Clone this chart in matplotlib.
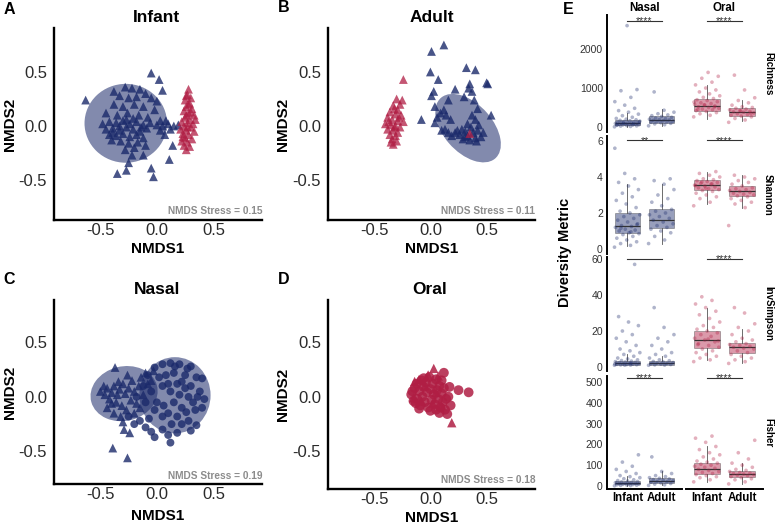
import numpy as np
import matplotlib
matplotlib.use('Agg')
import matplotlib.pyplot as plt
from matplotlib.patches import Ellipse

plt.rcParams['font.family'] = ['Liberation Sans', 'DejaVu Sans']
plt.rcParams['axes.unicode_minus'] = False

NAVY = '#1b2a6b'
RED = '#b01e44'
GREY = '#8c8c8c'

# ---- NMDS ordination points ----
# A: Infant samples, nasal (blue) and oral (red)
infant_nasal_x = [-0.63, -0.05, 0.02, 0.05, -0.35, -0.27, -0.03, -0.05, 0.11, 0.14, 0.07, -0.25, -0.12,
                  -0.28, -0.22, -0.15, -0.10, -0.33, -0.25, -0.18, -0.05, -0.38, -0.30, -0.20, -0.12, -0.02,
                  -0.45, -0.35, -0.26, -0.16, -0.08, -0.48, -0.42, -0.36, -0.30, -0.24, -0.18, -0.12, -0.06,
                  -0.45, -0.39, -0.33, -0.27, -0.21, -0.15, -0.09, -0.42, -0.36, -0.30, -0.24, -0.18, -0.12,
                  -0.40, -0.32, -0.25, -0.17, -0.28, -0.20, -0.10, -0.22, 0.00, 0.05, 0.10, 0.15, 0.19,
                  0.03, 0.12, 0.08, 0.00, 0.03, -0.38, -0.33, -0.27, -0.39, -0.21, -0.14]
infant_nasal_y = [0.24, 0.49, 0.43, 0.33, -0.44, -0.41, -0.47, -0.39, -0.31, -0.18, -0.08, -0.34, -0.27,
                  0.36, 0.35, 0.34, 0.30, 0.28, 0.26, 0.27, 0.26, 0.20, 0.18, 0.20, 0.18, 0.15,
                  0.12, 0.10, 0.12, 0.10, 0.08, 0.02, 0.04, 0.03, 0.05, 0.02, 0.04, 0.01, 0.03,
                  -0.03, -0.02, -0.04, -0.01, -0.03, -0.05, -0.02, -0.08, -0.09, -0.07, -0.10, -0.08, -0.11,
                  -0.13, -0.14, -0.16, -0.15, -0.22, -0.20, -0.18, -0.27, 0.01, 0.00, 0.02, 0.00, 0.01,
                  -0.04, -0.03, 0.05, 0.23, 0.05, 0.32, 0.00, 0.06, -0.06, 0.07, -0.01]
infant_oral_x = [0.28, 0.27, 0.30, 0.25, 0.29, 0.26, 0.31, 0.24, 0.28, 0.33, 0.25, 0.29, 0.22, 0.27, 0.32,
                 0.24, 0.30, 0.21, 0.26, 0.33, 0.23, 0.28, 0.25, 0.31, 0.22, 0.27, 0.24, 0.29, 0.26, 0.28,
                 0.26, 0.30, 0.27, 0.23, 0.34, 0.26]
infant_oral_y = [0.34, 0.29, 0.26, 0.24, 0.21, 0.18, 0.16, 0.14, 0.12, 0.10, 0.08, 0.06, 0.04, 0.03, 0.02,
                 0.00, -0.01, -0.03, -0.04, -0.05, -0.07, -0.08, -0.11, -0.12, -0.14, -0.15, -0.18, -0.19,
                 -0.22, 0.20, 0.10, 0.13, -0.01, -0.10, 0.06, 0.28]

# B: Adult samples
adult_nasal_x = [0.12, 0.01, 0.00, 0.07, 0.32, 0.40, 0.03, 0.01, 0.22, 0.35, 0.37, 0.34, 0.50, 0.51, 0.16,
                 0.30, 0.39, 0.42, 0.54, 0.04, 0.09, 0.12, 0.14, 0.18, -0.08, 0.04, 0.10, 0.16, 0.22, 0.26,
                 0.31, 0.36, 0.40, 0.42, 0.45, 0.40, 0.35, 0.31, 0.13, 0.19, 0.28, 0.33, 0.38, 0.43, 0.37,
                 0.33, 0.29, 0.24, 0.47, 0.41, 0.06]
adult_nasal_y = [0.75, 0.69, 0.50, 0.43, 0.54, 0.52, 0.32, 0.28, 0.34, 0.39, 0.32, 0.35, 0.40, 0.39, 0.24,
                 0.27, 0.24, 0.16, 0.10, 0.18, 0.12, 0.15, 0.10, 0.06, 0.06, 0.03, -0.04, -0.06, -0.06, -0.08,
                 -0.05, -0.01, 0.06, -0.04, -0.10, -0.11, -0.13, -0.10, -0.03, -0.09, -0.03, 0.02, -0.06, 0.01,
                 0.10, -0.09, -0.12, -0.04, -0.06, -0.14, 0.08]
adult_oral_x = [-0.30, -0.27, -0.33, -0.29, -0.36, -0.31, -0.26, -0.38, -0.34, -0.29, -0.24, -0.40, -0.35,
                -0.31, -0.27, -0.38, -0.33, -0.29, -0.36, -0.31, -0.34, -0.30, -0.33, -0.35, -0.32, -0.28,
                -0.37, -0.24, -0.25, -0.32, 0.35]
adult_oral_y = [0.25, 0.20, 0.19, 0.15, 0.13, 0.11, 0.10, 0.08, 0.06, 0.05, 0.04, 0.02, 0.01, 0.00, -0.01,
                -0.03, -0.04, -0.06, -0.08, -0.09, -0.12, -0.14, -0.17, -0.15, 0.16, 0.08, 0.04, 0.43, 0.24,
                -0.01, -0.07]

# C: Nasal samples (triangles = infant, circles = adult)
nasal_infant_x = [-0.37, -0.39, -0.26, -0.30, -0.29, -0.24, -0.50, -0.46, -0.44, -0.42, -0.40, -0.38, -0.36,
                  -0.35, -0.33, -0.31, -0.30, -0.28, -0.27, -0.25, -0.23, -0.22, -0.20, -0.18, -0.16, -0.14,
                  -0.12, -0.10, -0.08, -0.44, -0.38, -0.32, -0.47, -0.34, -0.26, -0.20, -0.15, -0.40, -0.05,
                  -0.03]
nasal_infant_y = [0.27, -0.47, -0.56, -0.23, -0.30, -0.33, 0.05, 0.02, 0.08, -0.02, 0.04, 0.10, -0.05,
                  0.02, 0.07, -0.08, 0.12, 0.03, -0.12, 0.08, -0.03, 0.15, 0.05, -0.06, 0.10, 0.18,
                  0.02, 0.22, 0.12, -0.10, -0.15, -0.18, 0.10, 0.14, 0.20, -0.15, -0.10, -0.06, 0.15,
                  0.24]
nasal_adult_x = [-0.25, -0.20, -0.15, -0.10, -0.05, -0.02, 0.05, 0.10, 0.12, 0.18, 0.22, 0.28, 0.30, 0.35,
                 0.40, 0.42, 0.38, 0.35, 0.40, 0.30, 0.20, 0.12, 0.05, -0.02, -0.08, -0.12, -0.18, -0.05,
                 0.00, 0.05, 0.08, 0.12, 0.15, 0.18, 0.20, 0.22, 0.25, 0.28, 0.30, 0.32, 0.25, 0.15, 0.10,
                 0.05, -0.02, 0.18, 0.26, 0.34, -0.10, 0.02, 0.22, 0.10, 0.16, -0.07, 0.13, 0.36, 0.06, 0.27]
nasal_adult_y = [-0.18, -0.25, -0.22, -0.28, -0.32, -0.37, -0.30, -0.35, -0.42, -0.33, -0.25, -0.22, -0.31,
                 -0.26, -0.10, -0.02, 0.05, 0.18, 0.17, 0.28, 0.30, 0.31, 0.30, 0.27, 0.20, 0.10, 0.00, 0.05,
                 -0.05, 0.10, 0.20, 0.05, -0.05, 0.12, 0.02, -0.10, 0.08, 0.00, 0.10, -0.05, 0.20, 0.22, -0.15,
                 -0.18, -0.12, -0.18, -0.14, -0.12, -0.05, 0.18, 0.14, 0.12, 0.28, -0.20, -0.25, 0.00, -0.08,
                 0.26]

# D: Oral samples
oral_adult_x = [-0.17, -0.15, -0.14, -0.12, -0.12, -0.10, -0.09, -0.08, -0.07, -0.06, -0.05, -0.04, -0.03,
                -0.02, -0.01, 0.00, 0.01, 0.02, 0.03, 0.04, 0.05, 0.06, 0.07, 0.08, 0.09, 0.10, 0.11, 0.12,
                0.13, 0.14, 0.15, 0.16, 0.12, 0.25, 0.34, 0.18, -0.13, -0.16, 0.00, 0.08, 0.10, -0.06, 0.17,
                0.05, -0.10]
oral_adult_y = [0.02, -0.04, 0.08, 0.12, -0.02, 0.05, -0.08, 0.15, 0.00, 0.09, -0.05, 0.13, 0.04, -0.10,
                0.18, 0.07, -0.03, 0.12, 0.02, -0.07, 0.16, 0.06, -0.02, 0.10, -0.10, 0.03, -0.05, 0.08,
                -0.12, -0.02, -0.16, 0.00, 0.22, 0.06, 0.04, -0.08, -0.06, 0.05, -0.13, -0.15, 0.15, 0.17,
                0.09, -0.12, -0.11]
oral_infant_x = [0.03, -0.10, 0.19, -0.14, -0.02, 0.07, -0.08, 0.02, -0.15, 0.10, -0.05, 0.05]
oral_infant_y = [0.26, 0.16, -0.24, 0.14, 0.20, 0.19, -0.04, -0.06, -0.01, -0.08, 0.10, 0.04]

stress = {'A': 0.15, 'B': 0.11, 'C': 0.19, 'D': 0.18}

# ---- Diversity metrics (panel E) ----
metrics = ['Richness', 'Shannon', 'InvSimpson', 'Fisher']
sites = ['Nasal', 'Oral']
ages = ['Infant', 'Adult']

richness_nasal_infant = [5, 15, 25, 30, 40, 45, 50, 55, 60, 65, 70, 75, 80, 90, 95, 100, 105, 110, 120, 130,
                         140, 150, 160, 170, 185, 200, 220, 250, 290, 330, 380, 420, 480, 560, 650, 760,
                         930, 960, 2600, 55, 75, 100, 125]
richness_nasal_adult = [30, 60, 80, 95, 110, 120, 130, 140, 150, 160, 170, 180, 190, 200, 215, 230, 250, 270,
                        290, 310, 340, 380, 430, 900]
richness_oral_infant = [260, 300, 340, 370, 400, 420, 440, 460, 480, 500, 520, 540, 560, 580, 600, 620, 650,
                        680, 700, 730, 760, 800, 850, 900, 950, 1000, 1080, 1150, 1250, 1300, 1400, 450,
                        510, 570, 640]
richness_oral_adult = [120, 180, 220, 260, 280, 300, 320, 340, 360, 380, 390, 400, 420, 440, 460, 480, 500,
                       520, 560, 620, 680, 750, 950, 1330, 350, 410]

shannon_nasal_infant = [0.1, 0.2, 0.3, 0.4, 0.5, 0.6, 0.7, 0.8, 0.85, 0.9, 1.0, 1.05, 1.1, 1.2, 1.25, 1.3,
                        1.4, 1.5, 1.6, 1.7, 1.8, 1.9, 2.0, 2.1, 2.3, 2.5, 2.7, 2.9, 3.1, 3.3, 3.5, 3.7, 3.9,
                        4.2, 5.6, 0.95, 1.15, 1.35]
shannon_nasal_adult = [0.3, 0.5, 0.7, 0.9, 1.0, 1.1, 1.2, 1.3, 1.4, 1.5, 1.6, 1.7, 1.8, 1.9, 2.0, 2.1, 2.2,
                       2.4, 2.6, 2.8, 3.0, 3.3, 3.6, 3.8, 3.9]
shannon_oral_infant = [2.4, 2.6, 2.8, 2.9, 3.0, 3.1, 3.2, 3.25, 3.3, 3.35, 3.4, 3.45, 3.5, 3.55, 3.6, 3.65,
                       3.7, 3.75, 3.8, 3.85, 3.9, 4.0, 4.1, 4.2, 4.3, 3.38, 3.52, 3.62, 3.72]
shannon_oral_adult = [1.3, 2.3, 2.5, 2.6, 2.7, 2.8, 2.9, 2.95, 3.0, 3.05, 3.1, 3.15, 3.2, 3.25, 3.3, 3.35,
                      3.4, 3.5, 3.6, 3.7, 3.8, 3.9, 4.0, 4.1]

invsimpson_nasal_infant = [1.0, 1.1, 1.2, 1.3, 1.4, 1.5, 1.6, 1.8, 2.0, 2.2, 2.4, 2.6, 2.8, 3.0, 3.3, 3.6,
                           4.0, 4.5, 5, 6, 7, 8, 9, 10, 12, 14, 16, 18, 20, 23, 25, 28, 57, 1.05, 1.7, 2.1]
invsimpson_nasal_adult = [1.0, 1.1, 1.2, 1.4, 1.6, 1.8, 2.0, 2.2, 2.5, 2.8, 3.1, 3.5, 4, 5, 6, 7, 8, 10, 12,
                          14, 16, 18, 22, 33]
invsimpson_oral_infant = [3, 4, 5, 6, 7, 8, 9, 10, 11, 12, 13, 14, 15, 16, 17, 18, 19, 20, 21, 22, 23, 25,
                          27, 29, 31, 33, 35, 37, 39, 14.5, 15.5, 12.5]
invsimpson_oral_adult = [2, 3, 4, 5, 6, 7, 8, 9, 10, 10.5, 11, 11.5, 12, 12.5, 13, 14, 15, 16, 18, 20, 22,
                         24, 30, 33]

fisher_nasal_infant = [1, 2, 3, 4, 5, 6, 7, 8, 9, 10, 11, 12, 14, 16, 18, 20, 22, 24, 26, 30, 35, 40, 45, 50,
                       60, 70, 80, 95, 115, 150]
fisher_nasal_adult = [3, 6, 9, 12, 15, 18, 20, 22, 25, 28, 31, 34, 37, 40, 45, 50, 60, 70, 140]
fisher_oral_infant = [20, 30, 40, 45, 50, 55, 60, 65, 70, 75, 80, 85, 90, 95, 100, 105, 110, 115, 120, 130,
                      140, 150, 160, 175, 190, 210, 230, 240]
fisher_oral_adult = [10, 20, 30, 35, 40, 45, 50, 52, 55, 58, 60, 62, 65, 70, 75, 80, 90, 100, 110, 130, 160,
                     220]

# box statistics (q1, median, q3, lower whisker, upper whisker): nasal infant, nasal adult, oral infant, oral adult
richness_box = [(60, 110, 180, 0, 360), (110, 170, 270, 20, 450), (410, 540, 720, 200, 1080), (290, 390, 490, 150, 700)]
shannon_box = [(0.89, 1.28, 2.0, 0.15, 3.6), (1.17, 1.6, 2.2, 0.3, 3.6), (3.28, 3.55, 3.83, 2.5, 4.3), (2.94, 3.2, 3.5, 2.3, 4.1)]
invsimpson_box = [(1.1, 2.0, 3.5, 1.0, 7), (1.2, 2.0, 3.2, 1.0, 6), (10.5, 15, 20, 4, 33), (7.8, 11, 13.3, 2, 21)]
fisher_box = [(8, 16, 25, 1, 50), (14, 25, 37, 3, 70), (58, 80, 112, 20, 190), (45, 56, 72, 10, 110)]

values = {
    'Richness': [richness_nasal_infant, richness_nasal_adult, richness_oral_infant, richness_oral_adult],
    'Shannon': [shannon_nasal_infant, shannon_nasal_adult, shannon_oral_infant, shannon_oral_adult],
    'InvSimpson': [invsimpson_nasal_infant, invsimpson_nasal_adult, invsimpson_oral_infant, invsimpson_oral_adult],
    'Fisher': [fisher_nasal_infant, fisher_nasal_adult, fisher_oral_infant, fisher_oral_adult],
}
boxes = {'Richness': richness_box, 'Shannon': shannon_box, 'InvSimpson': invsimpson_box, 'Fisher': fisher_box}
signif = {'Richness': ['****', '****'], 'Shannon': ['**', '****'], 'InvSimpson': ['', '****'], 'Fisher': ['****', '****']}

# ---- figure ----
W, H = 777, 531
fig = plt.figure(figsize=(W / 100, H / 100), dpi=100)


def rect(l, r, t, b):
    return [l / W, 1 - b / H, (r - l) / W, (b - t) / H]


def ftext(px, py, s, **kw):
    fig.text(px / W, 1 - py / H, s, **kw)


def nmds_axes(box, ylim, title, letter, lpos, tpos, xlab_y, ylab_x, st):
    ax = fig.add_axes(rect(*box))
    ax.set_xlim(-0.91, 0.93)
    ax.set_ylim(*ylim)
    for s in ['top', 'right']:
        ax.spines[s].set_visible(False)
    for s in ['left', 'bottom']:
        ax.spines[s].set_linewidth(1.7)
        ax.spines[s].set_color('black')
    ax.set_xticks([-0.5, 0.0, 0.5])
    ax.set_yticks([-0.5, 0.0, 0.5])
    ax.tick_params(length=0, labelsize=12, colors='#2b2b2b')
    ax.tick_params(axis='x', pad=2)
    ax.tick_params(axis='y', pad=5)
    ax.text(1.0, 0.045, f'NMDS Stress = {st:.2f}', transform=ax.transAxes, ha='right', va='center',
            fontsize=7.3, fontweight='bold', color=GREY)
    ftext(tpos[0], tpos[1], title, ha='center', va='center', fontsize=12.5, fontweight='bold')
    ftext(lpos[0], lpos[1], letter, ha='center', va='center', fontsize=11.5, fontweight='bold')
    ftext((box[0] + box[1]) / 2, xlab_y, 'NMDS1', ha='center', va='baseline',
          fontsize=11, fontweight='bold')
    ftext(ylab_x, (box[2] + box[3]) / 2, 'NMDS2', ha='center', va='center', fontsize=11,
          fontweight='bold', rotation=90)
    return ax


def add_ellipse(ax, cx, cy, w, h, ang):
    ax.add_patch(Ellipse((cx, cy), w, h, angle=ang, facecolor=NAVY, alpha=0.55, edgecolor='none', zorder=1))


# A
axA = nmds_axes((54, 262, 28, 220), (-0.87, 0.907), 'Infant', 'A', (9, 10), (157, 18), 253, 10, stress['A'])
add_ellipse(axA, -0.275, 0.025, 0.73, 0.73, 0)
axA.scatter(infant_nasal_x, infant_nasal_y, marker='^', s=40, color=NAVY, alpha=0.8, edgecolors='none', zorder=2)
axA.scatter(infant_oral_x, infant_oral_y, marker='^', s=40, color=RED, alpha=0.75, edgecolors='none', zorder=2)

# B
axB = nmds_axes((328, 535, 28, 220), (-0.87, 0.907), 'Adult', 'B', (284, 8), (432, 18), 253, 283, stress['B'])
add_ellipse(axB, 0.335, -0.02, 0.74, 0.44, -50)
axB.scatter(adult_nasal_x, adult_nasal_y, marker='^', s=40, color=NAVY, alpha=0.8, edgecolors='none', zorder=2)
axB.scatter(adult_oral_x, adult_oral_y, marker='^', s=40, color=RED, alpha=0.75, edgecolors='none', zorder=2)

# C
axC = nmds_axes((54, 262, 300, 484), (-0.8, 0.89), 'Nasal', 'C', (9, 280), (157, 290), 520, 10, stress['C'])
add_ellipse(axC, -0.29, 0.03, 0.60, 0.50, 15)
add_ellipse(axC, 0.16, 0.015, 0.63, 0.70, 0)
axC.scatter(nasal_infant_x, nasal_infant_y, marker='^', s=40, color=NAVY, alpha=0.8, edgecolors='none', zorder=2)
axC.scatter(nasal_adult_x, nasal_adult_y, marker='o', s=32, color=NAVY, alpha=0.8, edgecolors='none', zorder=2)

# D
axD = nmds_axes((328, 535, 300, 489), (-0.85, 0.89), 'Oral', 'D', (284, 280), (430, 290), 522, 283, stress['D'])
axD.scatter(oral_adult_x, oral_adult_y, marker='o', s=50, color=RED, alpha=0.85, edgecolors='none', zorder=2)
axD.scatter(oral_infant_x, oral_infant_y, marker='^', s=45, color=RED, alpha=0.85, edgecolors='none', zorder=2)

# E
rows_px = [(15, 132), (136, 254), (257, 371), (376, 489)]
cols_px = [(607, 682), (686, 763)]
ylims = [(-128, 2872), (-0.28, 6.28), (-2.2, 61.1), (-14.4, 529)]
yticks = [[0, 1000, 2000], [0, 2, 4, 6], [0, 20, 40, 60], [0, 100, 200, 300, 400, 500]]
sig_y = [2720, 6.05, 60, 519]
site_colors = [NAVY, RED]

for r, m in enumerate(metrics):
    for c, site in enumerate(sites):
        ax = fig.add_axes(rect(cols_px[c][0], cols_px[c][1], rows_px[r][0], rows_px[r][1]))
        col = site_colors[c]
        stats = []
        for k in range(2):
            q1, med, q3, lo, hi = boxes[m][c * 2 + k]
            stats.append(dict(q1=q1, med=med, q3=q3, whislo=lo, whishi=hi, fliers=[]))
        ax.bxp(stats, positions=[1, 2], widths=0.75, patch_artist=True, showfliers=False, manage_ticks=False,
               boxprops=dict(facecolor=col, alpha=0.45, edgecolor='#444444', linewidth=0.6),
               whiskerprops=dict(color='#555555', linewidth=0.6),
               capprops=dict(linewidth=0), medianprops=dict(color='#333333', linewidth=0.9))
        for k in range(2):
            v = values[m][c * 2 + k]
            n = len(v)
            jit = ((np.arange(n) * 0.618034) % 1 - 0.5) * 0.76
            ax.scatter(1 + k + jit, v, s=7, color=col, alpha=0.35, edgecolors='none', zorder=3)
        ax.set_xlim(0.4, 2.6)
        ax.set_ylim(*ylims[r])
        for s in ['top', 'right', 'left', 'bottom']:
            ax.spines[s].set_visible(False)
        if c == 0:
            ax.spines['left'].set_visible(True)
            ax.spines['left'].set_linewidth(1.4)
            ax.set_yticks(yticks[r])
            ax.tick_params(axis='y', length=0, labelsize=7.5, colors='#333333', pad=3)
        else:
            ax.set_yticks([])
        if r == 3:
            ax.spines['bottom'].set_visible(True)
            ax.spines['bottom'].set_linewidth(1.4)
            ax.set_xticks([1, 2])
            ax.set_xticklabels(ages, fontsize=8.3, fontweight='bold')
            ax.tick_params(axis='x', length=0, pad=2)
        else:
            ax.set_xticks([])
        ax.plot([1, 2], [sig_y[r], sig_y[r]], color='#333333', lw=0.8, clip_on=False)
        if signif[m][c]:
            ax.annotate(signif[m][c], xy=(1.5, sig_y[r]), xytext=(0, -2.5), textcoords='offset points',
                        ha='center', va='baseline', fontsize=7.5, color='#333333', annotation_clip=False)
    ftext(768, (rows_px[r][0] + rows_px[r][1]) / 2, m, ha='center', va='center', rotation=-90,
          fontsize=7, fontweight='bold')

ftext(645, 8, 'Nasal', ha='center', va='center', fontsize=8.3, fontweight='bold')
ftext(724, 8, 'Oral', ha='center', va='center', fontsize=8.3, fontweight='bold')
ftext(565, 252, 'Diversity Metric', ha='center', va='center', rotation=90, fontsize=10.5, fontweight='bold')
ftext(568, 10, 'E', ha='center', va='center', fontsize=11.5, fontweight='bold')

fig.savefig('out.png', dpi=100)
